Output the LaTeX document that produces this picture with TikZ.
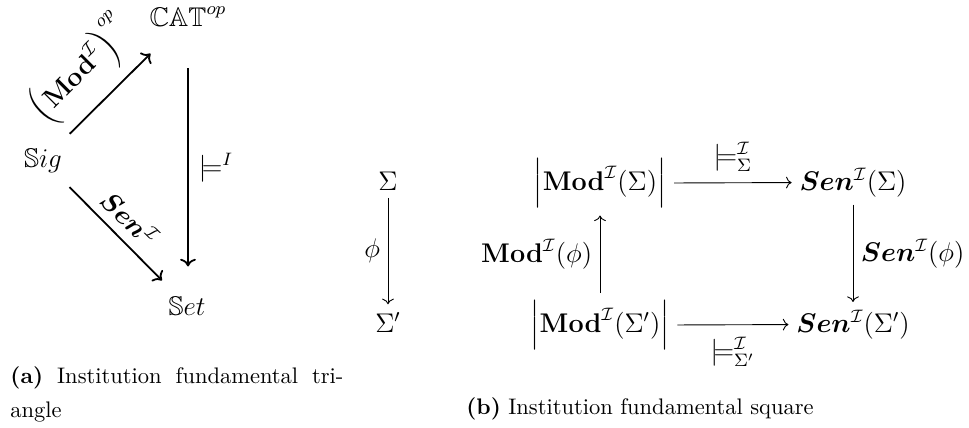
\documentclass[tikz,border=0pt]{standalone}
\usepackage{amsmath, amssymb}
\usepackage{bm}
\usepackage{tikz}
\usetikzlibrary{arrows.meta,calc,positioning}

\begin{document}
\begin{tikzpicture}[x=0.4444pt,y=-0.4444pt,
    every node/.style={font=\large},
    tri/.style={-{To}, thick},
    sq/.style={-{To}},
    captext/.style={font=\normalsize, inner sep=0pt}]
    \useasboundingbox (0,0) rectangle (969,427);
    %Triangle nodes
    \node[anchor=base] (sig) at (43,167) {$\mathbb{S}ig$};
    \node[anchor=base] (cat) at (188,26) {$\mathbb{CAT}^{op}$};
    \node[anchor=base] (set) at (187,315) {$\mathbb{S}et$};
    %Triangle arrows
    \draw[tri, shorten <=4.2pt, shorten >=12.4pt] (sig) -- (cat);
    \draw[tri, shorten <=4.3pt, shorten >=5pt] (sig) -- (set);
    \draw[tri, shorten <=15.3pt, shorten >=9.8pt] (cat.south) -- (cat.south |- set.north);
    \node (modelsI) at (216,168) {$\models^{I}$};
    \node[rotate=45] (modlbl) at (82,71) {$\Big(\mathbf{Mod}^{\mathcal{I}}\Big)^{op}$};
    \node[rotate=-45] (senlbl) at (130,218) {$\bm{Sen}^{\mathcal{I}}$};
    %Square nodes
    \node[anchor=base] (sigma) at (388,190) {$\Sigma$};
    \node[anchor=base] (sigmap) at (388,332) {$\Sigma'$};
    \node[anchor=base] (modS) at (600,190) {$\Big|\mathbf{Mod}^{\mathcal{I}}(\Sigma)\Big|$};
    \node[anchor=base] (modSp) at (600,332) {$\Big|\mathbf{Mod}^{\mathcal{I}}(\Sigma')\Big|$};
    \node[anchor=base] (senS) at (853,190) {$\bm{Sen}^{\mathcal{I}}(\Sigma)$};
    \node[anchor=base] (senSp) at (853,332) {$\bm{Sen}^{\mathcal{I}}(\Sigma')$};
    %Square arrows
    \draw[sq] (sigma) -- (sigmap) node[midway,left] {$\phi$};
    \draw[sq] (modSp) -- (modS) node[midway,left] {$\mathbf{Mod}^{\mathcal{I}}(\phi)$};
    \draw[sq] (modS) -- (senS) node[midway,above,yshift=1.5pt] {$\models^{\mathcal{I}}_{\Sigma}$};
    \draw[sq] (senS) -- (senSp) node[midway,right] {$\bm{Sen}^{\mathcal{I}}(\phi)$};
    \draw[sq] (modSp) -- (senSp) node[midway,below,yshift=-2pt] {$\models^{\mathcal{I}}_{\Sigma'}$};
    %Captions
    \node[captext, anchor=base west, text width=148pt, align=justify,
          font={\fontsize{10}{15.5}\selectfont}] (capa) at (10,383)
          {\textbf{(a)} Institution fundamental tri-\linebreak angle};
    \node[captext, anchor=base] (capb) at (640,414)
          {\textbf{(b)} Institution fundamental square};
\end{tikzpicture}
\end{document}
